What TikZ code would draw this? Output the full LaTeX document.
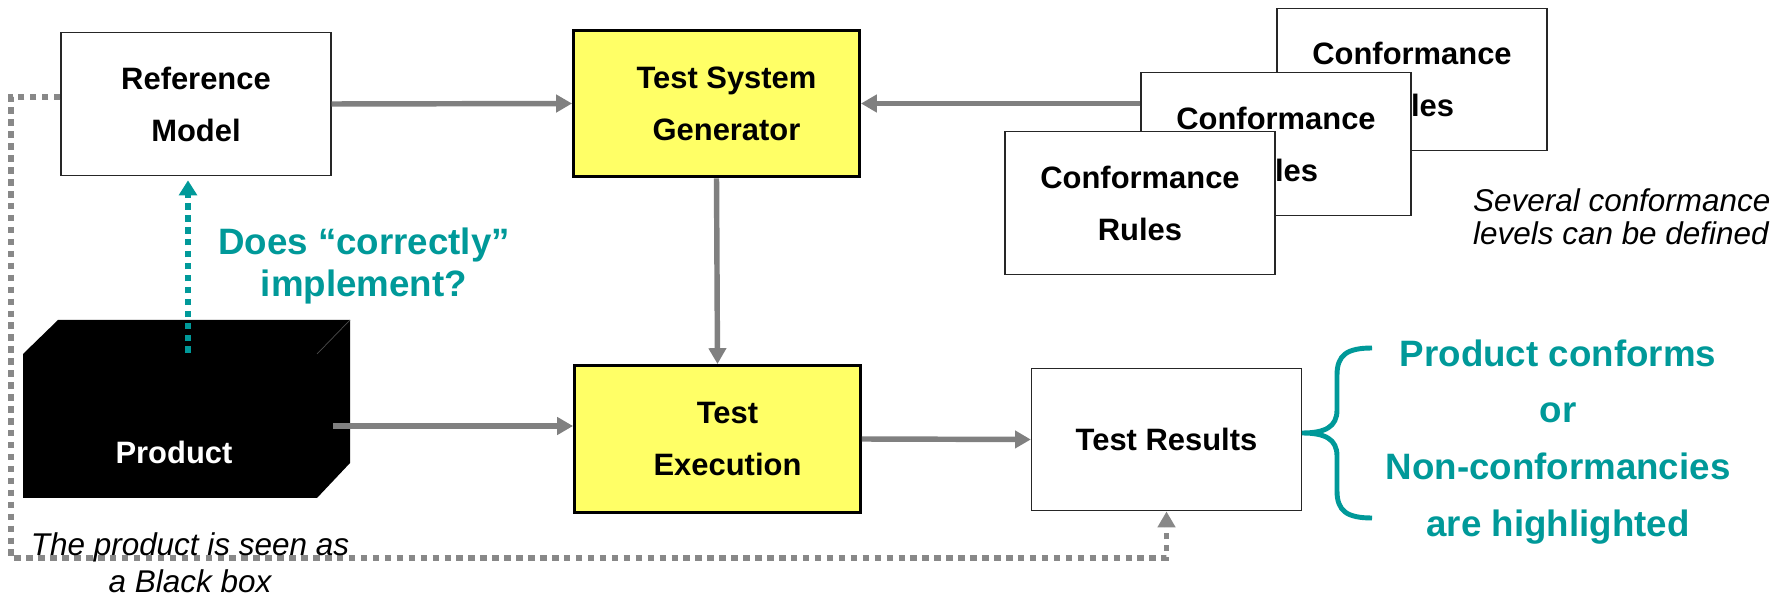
\documentclass[tikz,border=0pt]{standalone}
\usepackage{fontspec}
\setmainfont{Liberation Sans}
\usetikzlibrary{arrows.meta}

\definecolor{boxyellow}{RGB}{255,255,102}
\definecolor{arrgray}{RGB}{128,128,128}
\definecolor{dotgray}{RGB}{136,136,136}
\definecolor{confteal}{RGB}{0,153,153}

\begin{document}
\begin{tikzpicture}[x=0.02cm,y=-0.02cm,
  box/.style={draw=black!85,line width=0.8pt,fill=white,minimum width=5.4cm,minimum height=2.85cm,align=center,font=\fontsize{17.6}{29.6}\selectfont\bfseries},
  ybox/.style={box,fill=boxyellow,draw=black,line width=1.7pt,minimum width=5.72cm,minimum height=2.94cm},
  arr/.style={draw=arrgray,line width=3.1pt,-{Triangle[length=9pt,width=9.7pt]}},
  dots/.style={line width=3.1pt,dash pattern=on 3.7pt off 3.1pt},
  note/.style={font=\fontsize{17.9}{18.8}\selectfont\itshape},
  say/.style={text=confteal,align=center,font=\fontsize{20.9}{23.9}\selectfont\bfseries}]

\useasboundingbox (0,0) rectangle (1781,597);

\node[box] (ref) at (196,104) {Reference\\Model};
\node[ybox] (tsg) at (716.5,103.5) {\hspace*{4mm}Test System\\\hspace*{4mm}Generator};
\node[ybox] (te) at (717.5,439) {\hspace*{4mm}Test\\\hspace*{4mm}Execution};
\node[box] (tr) at (1166.5,439.5) {Test Results};

% stacked rule sheets
\node[box] (c3) at (1412,79.5) {Conformance\\Rules};
\node[box] (c2) at (1276,144) {Conformance\\Rules};
\node[box] (c1) at (1140,203) {Conformance\\Rules};

% the black box
\fill (23,354) -- (58,320) -- (350,320) -- (350,463) -- (317,498) -- (23,498) -- cycle;
\draw[black!70,line width=0.4pt] (317,354) -- (350,320);
\node[text=white,font=\fontsize{17.6}{29.6}\selectfont\bfseries] (prod) at (174,452) {Product};
\coordinate (pout) at (333,426);
\coordinate (dfoot) at (188,353);

\draw[arr] (ref.east) -- (tsg.west);
\draw[arr] (tsg.east -| c2.west) -- (tsg.east);
\draw[arr] (tsg.south) -- (te.north);
\draw[arr] (pout) -- (pout -| te.west);
\draw[arr] (te.east) -- (tr.west);

\draw[dots,draw=dotgray,-{Triangle[length=9pt,width=9.7pt]}] ([yshift=1.4mm]ref.west) -| (11,558) -| (tr.south);
\draw[dots,draw=confteal,-{Triangle[length=8.5pt,width=10pt]},shorten >=2.5pt] (dfoot) -- (dfoot |- ref.south);

\node[say] (does) at (364,266) {Does “correctly”\\implement?};

% verdict brace
\coordinate (tip) at (1302,433);
\draw[confteal,line width=2.8pt] (1372,348) .. controls (1347,348) and (1337,355) .. (1337,375) -- (1337,410)
  .. controls (1337,427) and (1325,433) .. (tip)
  .. controls (1325,433) and (1337,439) .. (1337,456) -- (1337,491)
  .. controls (1337,511) and (1347,518) .. (1372,518);
\node[say,font=\fontsize{20.9}{32.4}\selectfont\bfseries] (verdict) at (1558,442) {Product conforms\\or\\Non-conformancies\\are highlighted};

\node[note,anchor=west,align=left] (several) at (1467,216.5) {Several conformance\\levels can be defined};
\node[note,align=center,font=\fontsize{17.9}{21}\selectfont\itshape] (bb) at (190,563) {The product is seen as\\a Black box};

\end{tikzpicture}
\end{document}
